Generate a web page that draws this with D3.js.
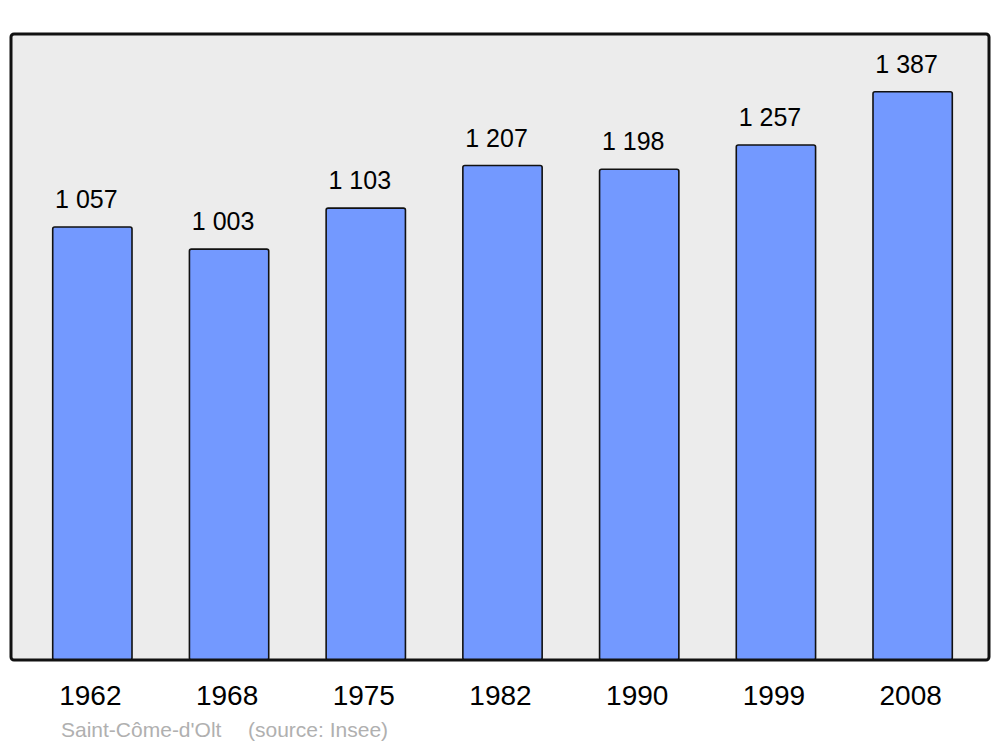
<!DOCTYPE html>
<html>
<head>
<meta charset="utf-8">
<script src="https://cdn.jsdelivr.net/npm/d3@7"></script>
<style>
  body { margin: 0; background: #fff; }
  text { font-family: "Liberation Sans", Arial, sans-serif; }
</style>
</head>
<body>
<div id="chart"></div>
<script>
var years = ['1962', '1968', '1975', '1982', '1990', '1999', '2008'];
var population = [1057, 1003, 1103, 1207, 1198, 1257, 1387];
var labels = ['1 057', '1 003', '1 103', '1 207', '1 198', '1 257', '1 387'];
var townName = "Saint-Côme-d'Olt";
var sourceText = "(source: Insee)";

var width = 1000,
    height = 747,
    frameLeft = 11,
    frameTop = 34,
    frameRight = 989,
    frameBottom = 660;

var svg = d3.select("#chart").append("svg")
    .attr("width", width)
    .attr("height", height);

// plot background
svg.append("rect")
    .attr("x", frameLeft)
    .attr("y", frameTop)
    .attr("width", frameRight - frameLeft)
    .attr("height", frameBottom - frameTop)
    .attr("rx", 3)
    .attr("fill", "#ececec")
    .attr("stroke", "none");

var x = d3.scaleBand()
    .domain(years)
    .range([24, 981])
    .paddingInner(0.42)
    .paddingOuter(0.21);

var y = d3.scaleLinear()
    .domain([0, 1528])
    .range([frameBottom, frameTop]);

var data = years.map(function (d, i) {
    return { year: d, value: population[i], label: labels[i] };
});

svg.selectAll(".bar")
    .data(data)
    .enter().append("rect")
    .attr("class", "bar")
    .attr("x", function (d) { return x(d.year); })
    .attr("y", function (d) { return y(d.value); })
    .attr("width", x.bandwidth())
    .attr("height", function (d) { return y(0) - y(d.value); })
    .attr("rx", 2)
    .attr("fill", "#7399ff")
    .attr("stroke", "#111")
    .attr("stroke-width", 1.6);

svg.selectAll(".value")
    .data(data)
    .enter().append("text")
    .attr("class", "value")
    .attr("x", function (d) { return x(d.year) + x.bandwidth() / 2 - 6; })
    .attr("y", function (d) { return y(d.value) - 19; })
    .attr("text-anchor", "middle")
    .style("font-size", "25px")
    .attr("fill", "#000")
    .text(function (d) { return d.label; });

// frame on top
svg.append("rect")
    .attr("x", frameLeft)
    .attr("y", frameTop)
    .attr("width", frameRight - frameLeft)
    .attr("height", frameBottom - frameTop)
    .attr("rx", 3)
    .attr("fill", "none")
    .attr("stroke", "#111")
    .attr("stroke-width", 3);

var xAxis = d3.axisBottom(x).tickSize(0).tickPadding(0);

var axisG = svg.append("g")
    .attr("class", "x axis")
    .attr("transform", "translate(0," + frameBottom + ")")
    .call(xAxis);

axisG.select(".domain").remove();
axisG.selectAll("text")
    .attr("y", 45)
    .attr("dy", 0)
    .attr("dx", -2)
    .style("font-size", "28px")
    .style("font-family", "'Liberation Sans', Arial, sans-serif")
    .attr("fill", "#000");

svg.append("text")
    .attr("x", 61)
    .attr("y", 737)
    .style("font-size", "21px")
    .attr("fill", "#b0b0b0")
    .text(townName);

svg.append("text")
    .attr("x", 248)
    .attr("y", 737)
    .style("font-size", "21px")
    .attr("fill", "#b0b0b0")
    .text(sourceText);
</script>
</body>
</html>
